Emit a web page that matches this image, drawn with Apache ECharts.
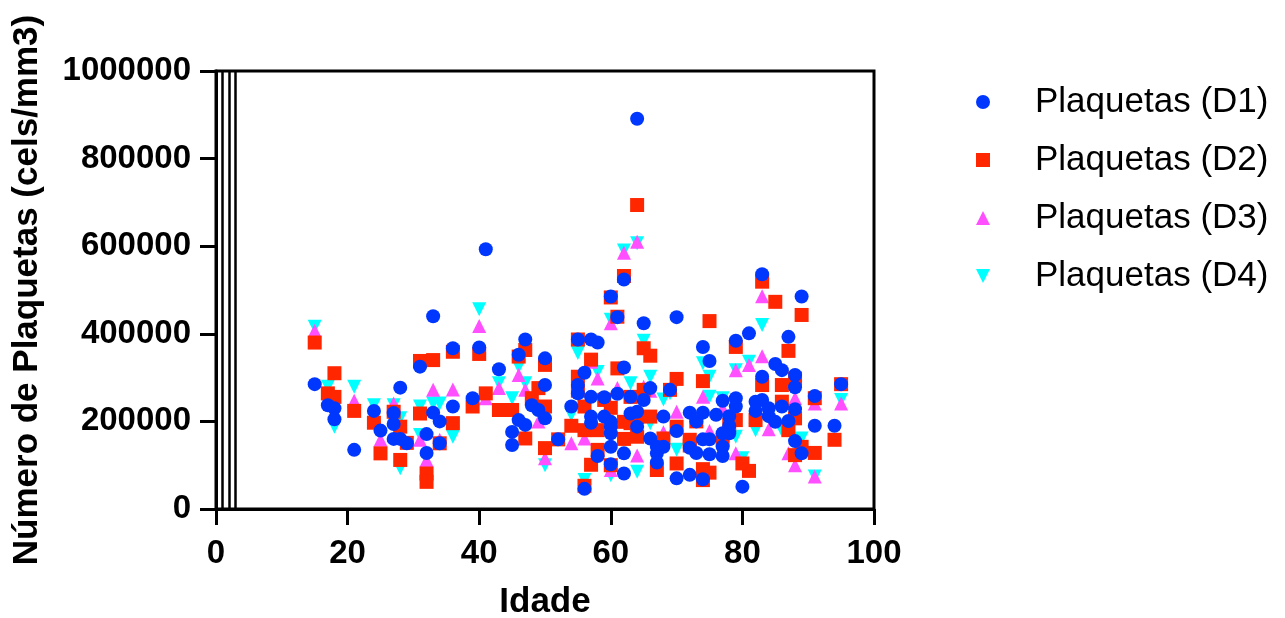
<!DOCTYPE html>
<html>
<head>
<meta charset="utf-8">
<script src="https://cdn.jsdelivr.net/npm/echarts@6/dist/echarts.min.js"></script>
<style>
html,body{margin:0;padding:0;background:#fff;}
#chart{width:1285px;height:618px;}
</style>
</head>
<body>
<div id="chart"></div>
<script>
// ---- Data ----
const seriesNames = ['Plaquetas (D1)', 'Plaquetas (D2)', 'Plaquetas (D3)', 'Plaquetas (D4)'];

const d1Age = [15,17,18,18,21,24,25,27,27,27,28,29,28,31,33,33,32,32,34,34,36,36,40,41,39,43,45,45,46,47,46,47,48,49,50,50,50,52,54,55,56,55,55,56,57,58,57,57,57,58,59,59,60,60,60,60,60,60,61,62,61,62,62,62,63,63,64,64,64,65,65,66,66,67,67,67,68,69,68,70,70,70,72,72,72,73,73,74,74,74,75,74,75,75,76,77,77,77,77,78,78,78,79,79,79,80,81,82,82,83,83,83,84,84,85,85,86,86,87,87,88,88,88,88,89,89,91,91,94,95];
const d1Val = [285000,237000,230000,205000,135000,224000,179000,219000,194000,160000,160000,150000,277000,325000,440000,220000,171000,128000,200000,150000,367000,234000,369000,593000,253000,319000,176000,146000,203000,192000,352000,387000,237000,226000,207000,283000,344000,159000,234000,387000,311000,283000,264000,46000,387000,380000,256000,211000,197000,121000,255000,211000,199000,188000,173000,142000,102000,485000,438000,524000,263000,323000,127000,81000,256000,218000,222000,188000,891000,424000,249000,276000,161000,142000,127000,106000,211000,272000,142000,438000,178000,70000,220000,140000,78000,200000,128000,370000,220000,159000,159000,68000,338000,125000,215000,247000,173000,142000,121000,212000,190000,173000,253000,234000,384000,51000,401000,245000,224000,249000,302000,536000,230000,212000,199000,331000,317000,234000,393000,201000,306000,278000,228000,155000,485000,127000,258000,190000,190000,285000];

const d2Age = [15,17,18,18,21,24,25,27,28,28,29,31,31,32,32,33,34,36,36,39,40,41,43,45,46,47,47,48,49,50,50,50,52,54,55,55,55,56,56,56,57,57,58,58,59,60,60,60,61,61,62,62,62,63,63,64,64,64,65,65,66,66,67,68,69,70,70,70,72,72,73,74,74,74,75,75,77,78,79,79,80,81,82,83,83,85,86,86,87,87,88,88,88,89,89,91,91,94,95];
const d2Val = [380000,264000,310000,256000,224000,197000,127000,222000,188000,112000,151000,338000,218000,81000,62000,340000,150000,359000,196000,234000,354000,264000,226000,226000,348000,363000,161000,253000,276000,329000,234000,139000,159000,190000,387000,302000,270000,234000,180000,53000,341000,101000,135000,180000,249000,231000,483000,100000,439000,321000,532000,160000,199000,256000,196000,694000,210000,165000,367000,272000,350000,211000,89000,161000,272000,297000,188000,104000,158000,145000,200000,292000,91000,66000,429000,83000,158000,192000,370000,203000,104000,87000,203000,519000,283000,473000,283000,245000,361000,180000,298000,207000,123000,443000,142000,253000,128000,158000,285000];

const d3Age = [15,21,25,27,31,32,33,34,36,40,41,43,46,47,49,50,54,56,57,58,60,60,61,62,64,64,65,66,68,70,74,75,77,79,79,81,83,83,84,87,88,88,91,91,95];
const d3Val = [407000,247000,158000,241000,158000,112000,272000,158000,273000,418000,253000,276000,306000,272000,200000,116000,150000,161000,336000,298000,424000,89000,276000,585000,610000,122000,279000,270000,175000,222000,256000,178000,230000,317000,127000,329000,486000,349000,182000,127000,253000,100000,241000,74000,241000];

const d4Age = [15,17,18,21,24,27,28,28,31,31,33,34,36,40,43,45,46,47,50,54,55,56,58,60,60,62,63,64,64,65,66,66,68,69,70,74,75,75,77,79,79,80,81,82,83,86,88,89,91,95];
const d4Val = [416000,279000,188000,279000,237000,237000,207000,93000,234000,169000,241000,241000,165000,456000,287000,253000,325000,287000,100000,215000,356000,66000,313000,432000,77000,590000,287000,607000,85000,384000,302000,196000,250000,264000,135000,333000,302000,256000,253000,317000,165000,116000,336000,180000,420000,180000,158000,161000,74000,249000];

// Vertical reference lines seen at these ages
const markerAges = [1, 2, 3];

const xTicks = { min: 0, max: 100, interval: 20 };
const yTicks = { min: 0, max: 1000000, interval: 200000 };

// ---- Styling ----
const colors = ['#0037FF', '#FF2600', '#FF4FFF', '#00FFFF'];
const symbols = ['circle', 'rect', 'triangle', 'path://M0,0 L10,0 L5,10 Z'];
const sizes = [14, 14, 14, 14];
const zs = [8, 7, 6, 5];

function zip(a, v) { return a.map((x, i) => [x, v[i]]); }
const allData = [zip(d1Age, d1Val), zip(d2Age, d2Val), zip(d3Age, d3Val), zip(d4Age, d4Val)];

const FONT = '"Liberation Sans", Arial, Helvetica, sans-serif';

const series = seriesNames.map((name, i) => ({
  name: name,
  type: 'scatter',
  data: allData[i],
  symbol: symbols[i],
  symbolSize: sizes[i],
  itemStyle: { color: colors[i], opacity: 1 },
  z: zs[i],
  emphasis: { disabled: true }
}));

series.push({
  name: 'refLines',
  type: 'scatter',
  data: [],
  z: 9,
  markLine: {
    silent: true,
    symbol: 'none',
    label: { show: false },
    lineStyle: { color: '#000', width: 2.5, type: 'solid' },
    data: markerAges.map(a => ({ xAxis: a }))
  }
});

const chart = echarts.init(document.getElementById('chart'), null, { renderer: 'canvas' });
chart.setOption({
  animation: false,
  backgroundColor: '#fff',
  grid: {
    left: 216, right: 411, top: 71, bottom: 109,
    outerBoundsMode: 'none',
    containLabel: false,
    show: true, borderColor: '#000', borderWidth: 3, backgroundColor: 'transparent'
  },
  legend: {
    data: seriesNames,
    orient: 'vertical',
    left: 971,
    top: 77,
    itemWidth: 14,
    itemHeight: 14,
    itemGap: 18,
    textStyle: {
      fontFamily: FONT, fontSize: 35, color: '#000', lineHeight: 40,
      padding: [0, 0, 0, 40]
    }
  },
  xAxis: {
    type: 'value',
    min: xTicks.min, max: xTicks.max, interval: xTicks.interval,
    name: 'Idade',
    nameLocation: 'middle',
    nameGap: 76,
    nameTextStyle: { fontFamily: FONT, fontSize: 35, fontWeight: 'bold', color: '#000' },
    axisLine: { lineStyle: { color: '#000', width: 3 } },
    axisTick: { show: true, length: 16, lineStyle: { color: '#000', width: 3 } },
    axisLabel: { fontFamily: FONT, fontSize: 33, fontWeight: 'bold', color: '#000', margin: 28 },
    splitLine: { show: false }
  },
  yAxis: {
    type: 'value',
    min: yTicks.min, max: yTicks.max, interval: yTicks.interval,
    name: 'Número de Plaquetas (cels/mm3)',
    nameLocation: 'middle',
    nameGap: 171,
    nameTextStyle: { fontFamily: FONT, fontSize: 35, fontWeight: 'bold', color: '#000' },
    axisLine: { lineStyle: { color: '#000', width: 3 } },
    axisTick: { show: true, length: 16, lineStyle: { color: '#000', width: 3 } },
    axisLabel: { fontFamily: FONT, fontSize: 33, fontWeight: 'bold', color: '#000', margin: 25,
      formatter: v => String(v) },
    splitLine: { show: false }
  },
  series: series
});
</script>
</body>
</html>
